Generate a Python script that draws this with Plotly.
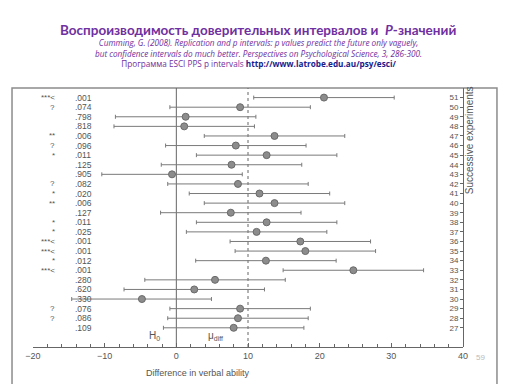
import plotly.graph_objects as go

# ---- data ----
experiments = [51, 50, 49, 48, 47, 46, 45, 44, 43, 42, 41, 40, 39,
               38, 37, 36, 35, 34, 33, 32, 31, 30, 29, 28, 27]
means = [20.6, 8.9, 1.3, 1.1, 13.7, 8.3, 12.6, 7.7, -0.6, 8.6, 11.6, 13.7, 7.6,
         12.6, 11.2, 17.3, 18.0, 12.5, 24.7, 5.4, 2.5, -4.8, 8.9, 8.6, 8.0]
lower = [10.8, -0.9, -8.5, -8.7, 3.9, -1.5, 2.8, -2.1, -10.4, -1.2, 1.8, 3.9, -2.2,
         2.8, 1.4, 7.5, 8.2, 2.7, 14.9, -4.4, -7.3, -14.6, -0.9, -1.2, -1.8]
upper = [30.4, 18.7, 11.1, 10.9, 23.5, 18.1, 22.4, 17.5, 9.2, 18.4, 21.4, 23.5, 17.4,
         22.4, 21.0, 27.1, 27.8, 22.3, 34.5, 15.2, 12.3, 4.9, 18.7, 18.4, 17.8]
stars = ["***<", "?", "", "", "**", "?", "*", "", "", "?", "*", "**", "",
         "*", "*", "***<", "***<", "*", "***<", "", "", "", "?", "?", ""]
pvals = [".001", ".074", ".798", ".818", ".006", ".096", ".011", ".125", ".905",
         ".082", ".020", ".006", ".127", ".011", ".025", ".001", ".001", ".012",
         ".001", ".280", ".620", ".330", ".076", ".086", ".109"]
x_ticks = [-20, -10, 0, 10, 20, 30, 40]
h0_value = 0
mu_diff = 10

TXT = "#555555"
FONT = "Liberation Sans, Arial, sans-serif"
PURPLE = "#7030A0"

fig = go.Figure()

# reference lines
fig.add_trace(go.Scatter(x=[h0_value, h0_value], y=[25, 52], mode="lines",
                         line=dict(color="#666666", width=1), hoverinfo="skip",
                         showlegend=False))
fig.add_trace(go.Scatter(x=[mu_diff, mu_diff], y=[25, 52], mode="lines",
                         line=dict(color="#666666", width=1, dash="dot"),
                         hoverinfo="skip", showlegend=False))

fig.add_trace(go.Scatter(
    x=means, y=experiments, mode="markers",
    marker=dict(size=7, color="#8c8c8c", line=dict(color="#6a6a6a", width=1)),
    error_x=dict(type="data", symmetric=False,
                 array=[u - m for u, m in zip(upper, means)],
                 arrayminus=[m - l for m, l in zip(means, lower)],
                 color="#7a7a7a", thickness=1, width=2),
    showlegend=False))

annotations = []
for e, s, p in zip(experiments, stars, pvals):
    if s:
        annotations.append(dict(x=-16.6, y=e, xref="x", yref="y", text=s,
                                showarrow=False, xanchor="right", yanchor="middle",
                                font=dict(size=8, color=TXT, family=FONT)))
    annotations.append(dict(x=-14.4, y=e, xref="x", yref="y", text=p,
                            showarrow=False, xanchor="left", yanchor="middle",
                            font=dict(size=8.5, color=TXT, family=FONT)))

annotations += [
    dict(x=-3, y=26.1, xref="x", yref="y", text="H<sub>0</sub>", showarrow=False,
         xanchor="center", yanchor="middle",
         font=dict(size=10, color=TXT, family=FONT)),
    dict(x=5.4, y=26.1, xref="x", yref="y", text="μ<sub>diff</sub>", showarrow=False,
         xanchor="center", yanchor="middle",
         font=dict(size=10, color=TXT, family=FONT)),
    dict(x=3.0, y=-0.1, xref="x", yref="paper", text="Difference in verbal ability",
         xanchor="center", yanchor="middle",
         showarrow=False, font=dict(size=9, color=TXT, family=FONT)),
    dict(x=1.015, y=46.6, xref="paper", yref="y", text="Successive experiments",
         textangle=-90, showarrow=False, xanchor="center", yanchor="middle",
         font=dict(size=10, color=TXT, family=FONT)),
    dict(x=1.04, y=-0.039, xref="paper", yref="paper", text="59", showarrow=False,
         xanchor="center", yanchor="middle",
         font=dict(size=8, color="#bbbbbb", family=FONT)),
    dict(x=0.524, y=1.225, xref="paper", yref="paper",
         text="<b>Воспроизводимость доверительных интервалов и  <i>P</i>-значений</b>",
         xanchor="center", yanchor="middle",
         showarrow=False, font=dict(size=13.5, color=PURPLE, family="Lato")),
    dict(x=0.524, y=1.136, xref="paper", yref="paper",
         text="<i>Cumming, G. (2008). Replication and p intervals: p values predict the future only vaguely,</i><br>"
              "<i>but confidence intervals do much better. Perspectives on Psychological Science, 3, 286-300.</i><br>"
              "Программа ESCI PPS p intervals <b><span style='color:#1a1a8c'>http://www.latrobe.edu.au/psy/esci/</span></b>",
         xanchor="center", yanchor="middle",
         showarrow=False, font=dict(size=8.2, color=PURPLE, family="Open Sans")),
]

shapes = [
    dict(type="rect", xref="paper", yref="paper", x0=-0.0488, x1=1.079, y0=-0.3, y1=1.0,
         line=dict(color="#8c8c8c", width=1.5), layer="below"),
]

fig.update_layout(
    width=512, height=384,
    margin=dict(l=33, r=49, t=88, b=37),
    paper_bgcolor="white", plot_bgcolor="white",
    annotations=annotations, shapes=shapes,
    xaxis=dict(range=[-20, 40], tickvals=x_ticks, ticks="inside", ticklen=4,
               tickcolor="#666666", showline=True, linecolor="#666666", linewidth=1,
               showgrid=False, zeroline=False, automargin=False,
               tickfont=dict(size=9, color=TXT, family=FONT),
               minor=dict(dtick=2, ticks="inside", ticklen=3, tickcolor="#666666")),
    yaxis=dict(range=[25, 52], tickvals=experiments, side="left",
               anchor="free", position=1.0,
               ticks="outside", ticklen=3,
               tickcolor="#666666", showline=True, linecolor="#666666", linewidth=1,
               showgrid=False, zeroline=False, automargin=False,
               tickfont=dict(size=8, color=TXT, family=FONT)),
)

fig.write_html("out.html", config={"displayModeBar": False},
               post_script="document.body.style.margin='0';")
